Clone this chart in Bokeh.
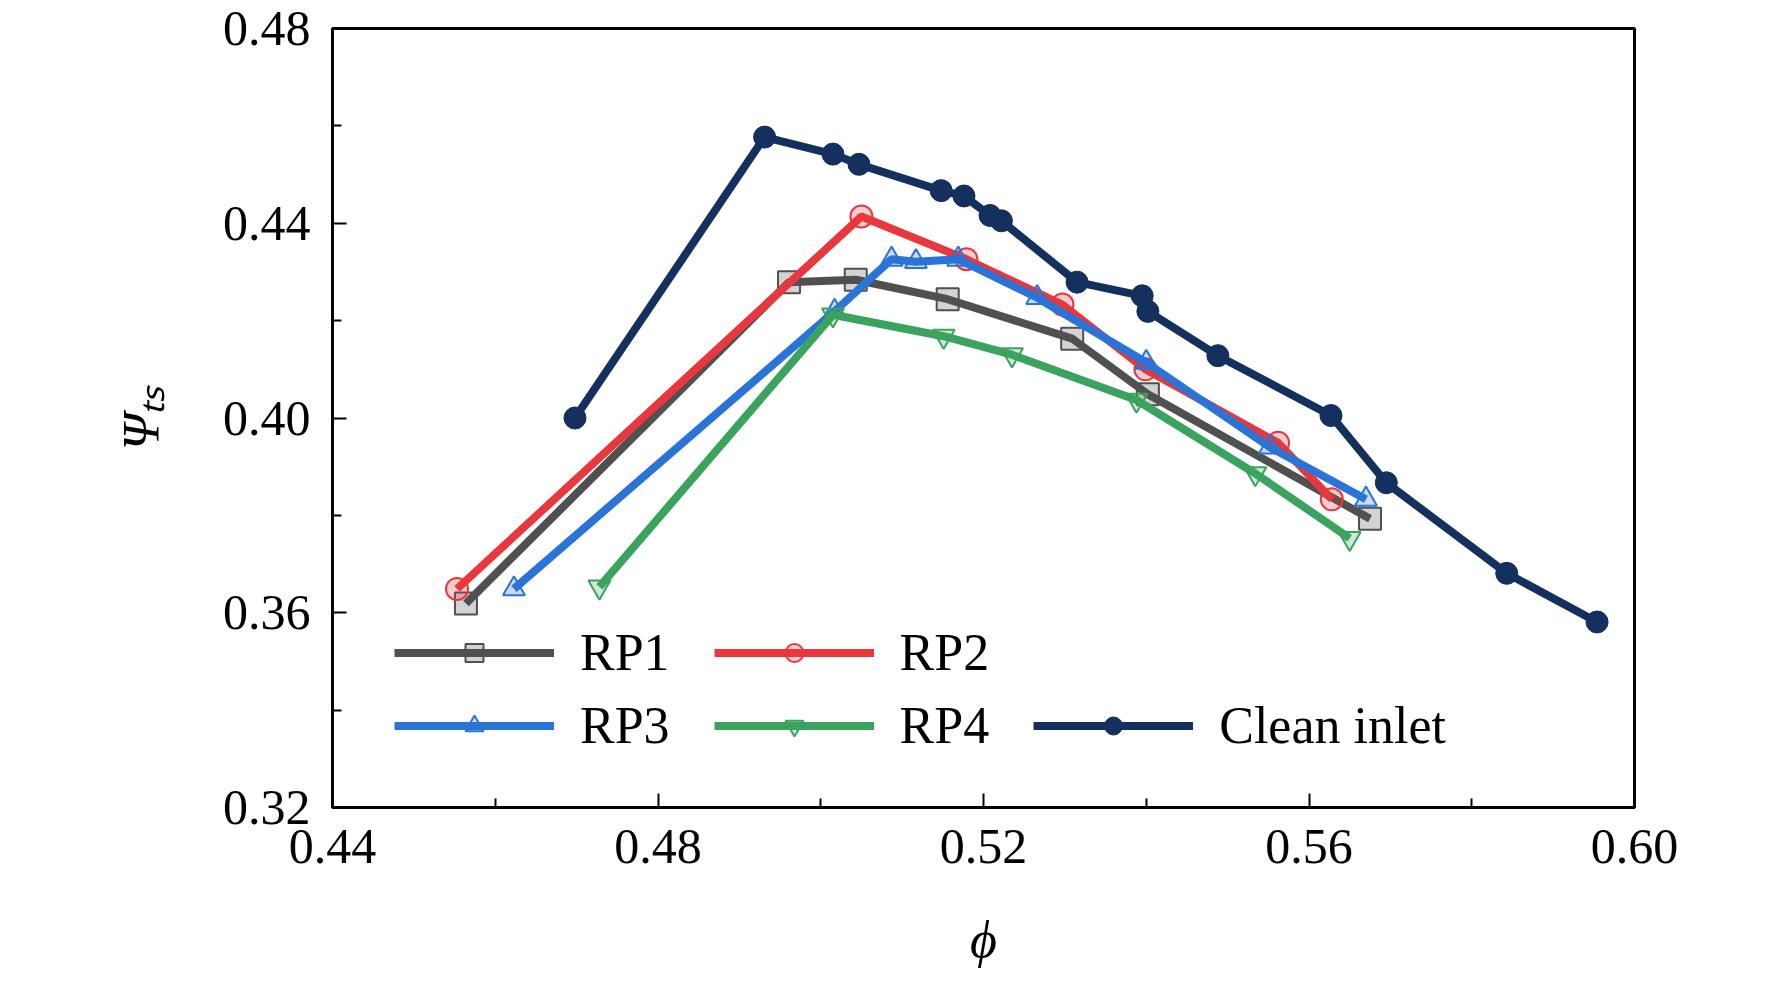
from bokeh.plotting import figure
from bokeh.models import Legend, LegendItem, FixedTicker, Range1d, CustomJSTickFormatter
from bokeh.embed import file_html
from bokeh.resources import INLINE

clean_x = [0.4698, 0.4931, 0.5015, 0.5047, 0.5148, 0.5176, 0.5208, 0.5222, 0.5315, 0.5395, 0.5402, 0.5488, 0.5627, 0.5695, 0.5843, 0.5954]
clean_y = [0.4000, 0.4577, 0.4542, 0.4521, 0.4467, 0.4456, 0.4416, 0.4405, 0.4279, 0.4251, 0.4219, 0.4128, 0.4005, 0.3867, 0.3681, 0.3581]
rp1_x = [0.4564, 0.4961, 0.5043, 0.5156, 0.5309, 0.5402, 0.5675]
rp1_y = [0.3619, 0.4279, 0.4284, 0.4244, 0.4163, 0.4049, 0.3793]
rp2_x = [0.4553, 0.5050, 0.5179, 0.5297, 0.5399, 0.5562, 0.5628]
rp2_y = [0.3649, 0.4414, 0.4326, 0.4233, 0.4100, 0.3949, 0.3833]
rp3_x = [0.4623, 0.5017, 0.5087, 0.5117, 0.5169, 0.5266, 0.5400, 0.5552, 0.5670]
rp3_y = [0.3649, 0.4219, 0.4326, 0.4321, 0.4326, 0.4247, 0.4114, 0.3940, 0.3833]
rp4_x = [0.4728, 0.5015, 0.5151, 0.5235, 0.5388, 0.5534, 0.5650]
rp4_y = [0.3653, 0.4212, 0.4168, 0.4130, 0.4037, 0.3886, 0.3753]
x_ticks = [0.44, 0.48, 0.52, 0.56, 0.60]
y_ticks = [0.32, 0.36, 0.40, 0.44, 0.48]

p = figure(frame_width=1302, frame_height=779, min_border_left=332, min_border_right=110,
           min_border_top=28, min_border_bottom=175, output_backend="svg", toolbar_location=None,
           x_range=Range1d(0.44, 0.60), y_range=Range1d(0.32, 0.48))
p.xgrid.visible = False
p.ygrid.visible = False
p.outline_line_color = "black"
p.outline_line_width = 3
F = "Liberation Serif"
for ax, t in ((p.xaxis, x_ticks), (p.yaxis, y_ticks)):
    ax.ticker = FixedTicker(ticks=t, minor_ticks=[a + 0.02 for a in t[:-1]])
    ax.formatter = CustomJSTickFormatter(code="return tick.toFixed(2);")
    ax.major_label_text_font = F
    ax.major_label_text_font_size = "50px"
    ax.major_label_text_color = "black"
    ax.major_label_standoff = 22
    ax.axis_label_text_font = F
    ax.axis_label_text_font_size = "52px"
    ax.axis_label_text_font_style = "italic"
    ax.axis_label_text_color = "black"
    ax.axis_line_width = 3
    ax.major_tick_in = 14
    ax.major_tick_out = 0
    ax.minor_tick_in = 9
    ax.minor_tick_out = 0
    ax.major_tick_line_width = 2
    ax.minor_tick_line_width = 2
p.xaxis.axis_label = "ϕ"
p.yaxis.axis_label = "Ψₜₛ"
p.xaxis.axis_label_standoff = 45
p.yaxis.axis_label_standoff = 50

W = 8
S = 22
series = [
    ("RP1", rp1_x, rp1_y, "#505050", "square"),
    ("RP2", rp2_x, rp2_y, "#e8383d", "circle"),
    ("RP3", rp3_x, rp3_y, "#2a74d8", "triangle"),
    ("RP4", rp4_x, rp4_y, "#3aa35e", "inverted_triangle"),
]
items = {}
for name, xs, ys, c, m in series:
    l = p.line(xs, ys, line_color=c, line_width=W)
    s = p.scatter(xs, ys, marker=m, size=S, line_color=c, line_width=2, fill_color=c, fill_alpha=0.25)
    items[name] = [l, s]
l = p.line(clean_x, clean_y, line_color="#13305e", line_width=W)
s = p.scatter(clean_x, clean_y, marker="circle", size=S, line_color="#13305e", fill_color="#13305e")
items["Clean inlet"] = [l, s]

def mk(names, loc):
    lg = Legend(items=[LegendItem(label=n, renderers=items[n]) for n in names],
                orientation="horizontal", location=loc, border_line_color=None,
                background_fill_alpha=0, label_text_font=F, label_text_font_size="52px",
                label_text_color="black", glyph_width=160, glyph_height=45, spacing=44,
                label_standoff=26, padding=0, margin=0)
    p.add_layout(lg)

mk(["RP1", "RP2"], (62, 125))
mk(["RP3", "RP4", "Clean inlet"], (62, 52))

open("out.html", "w").write(file_html(p, INLINE))
